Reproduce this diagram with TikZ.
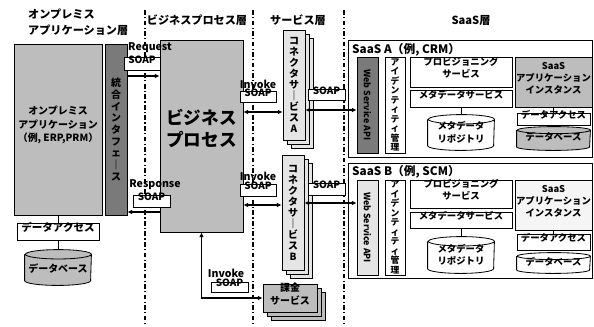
\documentclass[tikz,border=0pt]{standalone}
\usepackage{fontspec}
\setmainfont{Noto Sans CJK JP}
\usetikzlibrary{arrows.meta, positioning, fit, backgrounds, shadows}
\definecolor{boxgray}{gray}{0.74}
\definecolor{bargray}{gray}{0.48}
\definecolor{palegray}{gray}{0.9}

% cylinder drawn around a named (invisible) node: name, fill, x radius, y radius
\newcommand{\dbcyl}[4]{%
  \draw[line width=0.7pt, fill=#2] ([yshift=-#4]#1.north west) -- ([yshift=#4]#1.south west)
    arc[start angle=180, end angle=360, x radius=#3, y radius=#4]
    -- ([yshift=-#4]#1.north east)
    arc[start angle=0, end angle=360, x radius=#3, y radius=#4];}

\begin{document}
\begin{tikzpicture}[x=0.03cm, y=-0.03cm,
    wbox/.style={draw, line width=0.7pt, fill=white, inner sep=0pt,
                 font=\bfseries\fontsize{8}{10.5}\selectfont, align=center},
    gbox/.style={wbox, fill=boxgray},
    dbox/.style={wbox, fill=bargray},
    soapbox/.style={wbox, font=\bfseries\fontsize{8.5}{9}\selectfont},
    tagtxt/.style={font=\bfseries\fontsize{9}{10}\selectfont, inner sep=0pt},
    hdr/.style={font=\bfseries\fontsize{9.5}{13.5}\selectfont, align=left, inner sep=0pt},
    stackbox/.style={wbox, double copy shadow={shadow xshift=3.5pt, shadow yshift=-3.5pt}},
    vtxt/.style={font=\bfseries\fontsize{8.5}{9.4}\selectfont, align=center, inner sep=0pt},
    cyltxt/.style={wbox, draw=none, fill=none},
    link/.style={line width=0.9pt, {Latex[length=4pt,width=4pt]}-{Latex[length=4pt,width=4pt]}},
    oneway/.style={line width=0.9pt, -{Latex[length=4pt,width=4pt]}},
    sepline/.style={line width=1pt, dash pattern=on 4pt off 2pt on 1pt off 2pt},
]
    \useasboundingbox (0,0) rectangle (594,326);

    % layer headings
    \node[hdr, anchor=west] (hOnprem) at (28,22) {オンプレミス\\アプリケーション層};
    \node[hdr] (hBiz) at (197,20) {ビジネスプロセス層};
    \node[hdr] (hSvc) at (298,20) {サービス層};
    \node[hdr] (hSaas) at (471,20) {SaaS層};

    % layer separators
    \foreach \sx/\sn in {145/s1, 253/s2, 344/s3} {
        \coordinate (\sn t) at (\sx,10);
        \coordinate (\sn b) at (\sx,326);
        \draw[sepline] (\sn t) -- (\sn b);
    }

    % on-premise application layer
    \node[draw, double, double distance=1pt, line width=0.5pt, inner sep=0pt,
          fit={(11,39) (131,292)}] (onprem) {};
    \node[gbox, font=\bfseries\fontsize{8.5}{11.5}\selectfont, fit={(14,44) (102,215)}] (app)
        {オンプレミス\\アプリケーション\\（例, ERP,PRM）};
    \node[dbox, fit={(105,44) (127,215)}] (iface) {};
    \node[vtxt, font=\bfseries\fontsize{8.5}{10}\selectfont] (ifaceT) at (iface.center) {統\\合\\イ\\ン\\タ\\フ\\ェ\\｜\\ス};
    \node[wbox, font=\bfseries\fontsize{9}{10}\selectfont, fit={(17,223) (99,240)}] (da1) {データアクセス};
    \node[cyltxt, font=\bfseries\fontsize{8.5}{10}\selectfont, fit={(25,250) (91,285)}] (db1) {\\データベース};
    \draw[line width=0.7pt] (app.south) -- (da1.north);
    \draw[line width=0.7pt] (da1.south) -- (db1.north);

    % business process layer
    \node[gbox, font=\bfseries\fontsize{15}{19}\selectfont, fit={(160,40) (243,232)}] (biz) {ビジネス\\プロセス};

    \node[tagtxt] (reqT) at (150,48) {Request};
    \node[soapbox, fit={(124,57) (160,70)}] (soapReq) {SOAP};
    \node[tagtxt] (resT) at (155,185) {Response};
    \node[soapbox, fit={(133,195) (170,207)}] (soapRes) {SOAP};
    \coordinate (rq) at (0,76);
    \coordinate (rs) at (0,212);
    \draw[oneway] (iface.east |- rq) -- (biz.west |- rq);
    \draw[oneway] (biz.west |- rs) -- (iface.east |- rs);

    % service layer
    \node[stackbox, fill=palegray, fit={(283,30) (305,140)}] (connA) {};
    \node[vtxt] (connAT) at (connA.center) {コ\\ネ\\ク\\タ\\サ\\｜\\ビ\\ス\\A};
    \node[stackbox, fill=palegray, fit={(282,155) (304,270)}] (connB) {};
    \node[vtxt] (connBT) at (connB.center) {コ\\ネ\\ク\\タ\\サ\\｜\\ビ\\ス\\B};
    \node[stackbox, fill=boxgray, font=\bfseries\fontsize{8.5}{11}\selectfont,
          fit={(263,284) (317,312)}] (svc) {課金\\サービス};

    \node[tagtxt] (invAT) at (258,84) {Invoke};
    \node[soapbox, fit={(240,91) (276,102)}] (soapA1) {SOAP};
    \node[tagtxt] (invBT) at (258,176) {Invoke};
    \node[soapbox, fit={(240,184) (276,196)}] (soapB1) {SOAP};
    \node[tagtxt] (invCT) at (226,273) {Invoke};
    \node[soapbox, fit={(211,282) (248,292)}] (soapC) {SOAP};
    \coordinate (ia) at (0,112);
    \coordinate (ib) at (0,205);
    \draw[link] (biz.east |- ia) -- (connA.west |- ia);
    \draw[link] (biz.east |- ib) -- (connB.west |- ib);
    \draw[link] (biz.south) |- (svc.west);

    % SaaS layer: SaaS A
    \node[draw, line width=0.7pt, inner sep=0pt, fit={(348,40) (592,157)}] (saasA) {};
    \node[anchor=west, font=\bfseries\fontsize{10}{11}\selectfont, inner sep=0pt] (saasAT) at (352,50) {SaaS A（例, CRM）};
    \node[dbox, fit={(357,57) (378,153)}] (apiA) {};
    \node[rotate=-90, font=\bfseries\fontsize{7.5}{9}\selectfont, inner sep=0pt] (apiAT) at (apiA.center) {Web Service API};
    \node[wbox, fit={(385,57) (405,153)}] (idA) {};
    \node[vtxt, font=\bfseries\fontsize{7.5}{8.1}\selectfont] (idAT) at (idA.center) {ア\\イ\\デ\\ン\\テ\\ィ\\テ\\ィ\\管\\理};
    \node[wbox, fit={(410,57) (512,87)}] (provA) {プロビジョニング\\サービス};
    \node[wbox, fit={(410,90) (512,107)}] (metaA) {メタデータサービス};
    \node[cyltxt, fit={(428,115) (494,150)}] (repoA) {\\[-4pt]メタデータ\\リポジトリ};
    \node[gbox, fit={(515,57) (592,107)}] (instA) {SaaS\\アプリケーション\\インスタンス};
    \node[wbox, fit={(517,113) (590,125)}] (daA) {データアクセス};
    \node[cyltxt, fit={(517,127) (590,150)}] (dbA) {\\[-6pt]データベース};
    \draw[line width=0.7pt] (metaA.south) -- (repoA.north);
    \draw[line width=0.7pt] (instA.south) -- (daA.north);

    % SaaS layer: SaaS B
    \node[draw, line width=0.7pt, inner sep=0pt, fit={(348,163) (592,278)}] (saasB) {};
    \node[anchor=west, font=\bfseries\fontsize{10}{11}\selectfont, inner sep=0pt] (saasBT) at (352,172) {SaaS B（例, SCM）};
    \node[dbox, fill=palegray, fit={(357,180) (378,275)}] (apiB) {};
    \node[rotate=-90, font=\bfseries\fontsize{7.5}{9}\selectfont, inner sep=0pt] (apiBT) at (apiB.center) {Web Service API};
    \node[wbox, fit={(385,180) (405,275)}] (idB) {};
    \node[vtxt, font=\bfseries\fontsize{7.5}{8.1}\selectfont] (idBT) at (idB.center) {ア\\イ\\デ\\ン\\テ\\ィ\\テ\\ィ\\管\\理};
    \node[wbox, fit={(410,180) (512,208)}] (provB) {プロビジョニング\\サービス};
    \node[wbox, fit={(410,212) (512,228)}] (metaB) {メタデータサービス};
    \node[cyltxt, fit={(428,237) (494,273)}] (repoB) {\\[-4pt]メタデータ\\リポジトリ};
    \node[wbox, fill=gray!8, fit={(515,180) (592,230)}] (instB) {SaaS\\アプリケーション\\インスタンス};
    \node[wbox, fit={(517,234) (590,250)}] (daB) {データアクセス};
    \node[cyltxt, fit={(517,253) (590,273)}] (dbB) {\\[-6pt]データベース};
    \draw[line width=0.7pt] (metaB.south) -- (repoB.north);
    \draw[line width=0.7pt] (instB.south) -- (daB.north);

    % service layer to SaaS
    \node[soapbox, fit={(308,89) (345,100)}] (soapA2) {SOAP};
    \node[soapbox, fit={(308,183) (345,195)}] (soapB2) {SOAP};
    \coordinate (sa) at (0,110);
    \coordinate (sb) at (0,203);
    \draw[link] (connA.east |- sa) -- (apiA.west |- sa);
    \draw[link] (connB.east |- sb) -- (apiB.west |- sb);

    % databases
    \begin{scope}[on background layer]
        \dbcyl{db1}{boxgray}{0.99cm}{4pt}
        \dbcyl{repoA}{white}{0.99cm}{4pt}
        \dbcyl{dbA}{boxgray}{1.095cm}{3pt}
        \dbcyl{repoB}{white}{0.99cm}{4pt}
        \dbcyl{dbB}{white}{1.095cm}{3pt}
    \end{scope}
\end{tikzpicture}
\end{document}
